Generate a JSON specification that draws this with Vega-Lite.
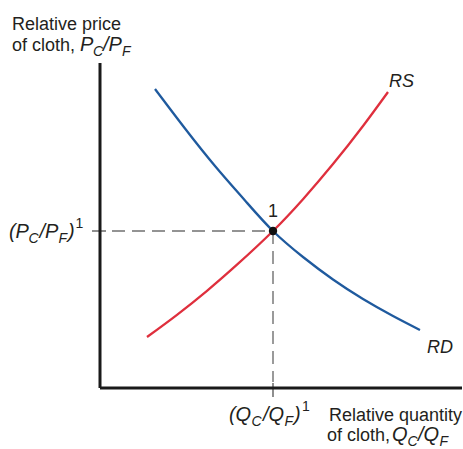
{
  "$schema": "https://vega.github.io/schema/vega-lite/v6.json",
  "width": 463,
  "height": 449,
  "autosize": {"type": "none"},
  "padding": 0,
  "background": "white",
  "config": {"view": {"stroke": null}},
  "datasets": {
    "axes": [
      {"x": 0, "y": 0, "x2": 36.2, "y2": 0},
      {"x": 0, "y": 0, "x2": 0, "y2": 32.5}
    ],
    "ticks": [
      {"x": -0.8, "y": 15.7, "x2": 0.6, "y2": 15.7},
      {"x": 17.3, "y": 0.5, "x2": 17.3, "y2": -0.9}
    ],
    "guides": [
      {"x": 1.2, "y": 15.7, "x2": 17.3, "y2": 15.7},
      {"x": 17.3, "y": 15.7, "x2": 17.3, "y2": 0.6}
    ],
    "curves": [
      {"curve": "RD", "x": 5.5, "y": 29.9},
      {"curve": "RD", "x": 8.5, "y": 25.95},
      {"curve": "RD", "x": 11.5, "y": 22.2},
      {"curve": "RD", "x": 14.5, "y": 18.75},
      {"curve": "RD", "x": 17.3, "y": 15.7},
      {"curve": "RD", "x": 20.3, "y": 13.1},
      {"curve": "RD", "x": 23.3, "y": 10.85},
      {"curve": "RD", "x": 26.3, "y": 8.9},
      {"curve": "RD", "x": 29.3, "y": 7.2},
      {"curve": "RD", "x": 32.0, "y": 5.8},
      {"curve": "RS", "x": 4.7, "y": 5.1},
      {"curve": "RS", "x": 7.7, "y": 7.32},
      {"curve": "RS", "x": 10.7, "y": 9.72},
      {"curve": "RS", "x": 13.7, "y": 12.33},
      {"curve": "RS", "x": 17.3, "y": 15.7},
      {"curve": "RS", "x": 20.3, "y": 18.88},
      {"curve": "RS", "x": 23.3, "y": 22.39},
      {"curve": "RS", "x": 26.3, "y": 26.2},
      {"curve": "RS", "x": 28.8, "y": 29.6}
    ],
    "curveLabels": [
      {"x": 28.9, "y": 30.1, "t": "RS"},
      {"x": 32.7, "y": 3.5, "t": "RD"}
    ],
    "equilibrium": [{"x": 17.3, "y": 15.7, "t": "1"}],
    "plainText": [
      {"x": -8.8, "y": 35.8, "t": "Relative price"},
      {"x": -8.8, "y": 33.7, "t": "of cloth,"},
      {"x": 22.9, "y": -3.3, "t": "Relative quantity"},
      {"x": 22.7, "y": -5.3, "t": "of cloth,"}
    ],
    "mathText": [
      {"x": -2.0, "y": 33.7, "t": "P"},
      {"x": 0.3, "y": 33.7, "t": "/P"},
      {"x": -9.1, "y": 15.0, "t": "("},
      {"x": -8.45, "y": 15.0, "t": "P"},
      {"x": -6.05, "y": 15.0, "t": "/P"},
      {"x": -3.2, "y": 15.0, "t": ")"},
      {"x": 12.9, "y": -3.3, "t": "("},
      {"x": 13.55, "y": -3.3, "t": "Q"},
      {"x": 16.3, "y": -3.3, "t": "/Q"},
      {"x": 19.4, "y": -3.3, "t": ")"},
      {"x": 29.2, "y": -5.3, "t": "Q"},
      {"x": 31.8, "y": -5.3, "t": "/Q"}
    ],
    "subText": [
      {"x": -0.7, "y": 33.2, "t": "C"},
      {"x": 2.2, "y": 33.2, "t": "F"},
      {"x": -7.15, "y": 14.5, "t": "C"},
      {"x": -4.15, "y": 14.5, "t": "F"},
      {"x": 15.15, "y": -3.8, "t": "C"},
      {"x": 18.45, "y": -3.8, "t": "F"},
      {"x": 30.75, "y": -5.8, "t": "C"},
      {"x": 33.95, "y": -5.8, "t": "F"}
    ],
    "supText": [
      {"x": -2.45, "y": 16.0, "t": "1"},
      {"x": 20.2, "y": -2.3, "t": "1"}
    ]
  },
  "encoding": {
    "x": {"field": "x", "type": "quantitative", "scale": {"domain": [-10, 36.3], "nice": false, "zero": false}, "axis": null},
    "y": {"field": "y", "type": "quantitative", "scale": {"domain": [-6.1, 38.8], "nice": false, "zero": false}, "axis": null}
  },
  "layer": [
    {
      "data": {"name": "guides"},
      "mark": {"type": "rule", "color": "#707070", "strokeWidth": 1.4, "strokeDash": [13, 7]},
      "encoding": {"x2": {"field": "x2"}, "y2": {"field": "y2"}}
    },
    {
      "data": {"name": "ticks"},
      "mark": {"type": "rule", "color": "#444444", "strokeWidth": 1.2},
      "encoding": {"x2": {"field": "x2"}, "y2": {"field": "y2"}}
    },
    {
      "data": {"name": "axes"},
      "mark": {"type": "rule", "color": "#1a1a1a", "strokeWidth": 3},
      "encoding": {"x2": {"field": "x2"}, "y2": {"field": "y2"}}
    },
    {
      "data": {"name": "curves"},
      "mark": {"type": "line", "interpolate": "natural", "strokeWidth": 2.3},
      "encoding": {
        "order": {"field": "x", "type": "quantitative"},
        "color": {"field": "curve", "type": "nominal", "scale": {"domain": ["RD", "RS"], "range": ["#1f5a9e", "#df2f3d"]}, "legend": null}
      }
    },
    {
      "data": {"name": "equilibrium"},
      "mark": {"type": "point", "shape": "circle", "filled": true, "size": 70, "color": "#111111", "opacity": 1}
    },
    {
      "data": {"name": "equilibrium"},
      "mark": {"type": "text", "font": "Liberation Sans", "fontSize": 18, "color": "#231f20", "align": "center", "baseline": "alphabetic", "dy": -14},
      "encoding": {"text": {"field": "t"}}
    },
    {
      "data": {"name": "curveLabels"},
      "mark": {"type": "text", "font": "Liberation Sans", "fontStyle": "italic", "fontSize": 18, "color": "#231f20", "align": "left", "baseline": "alphabetic"},
      "encoding": {"text": {"field": "t"}}
    },
    {
      "data": {"name": "plainText"},
      "mark": {"type": "text", "font": "Liberation Sans", "fontSize": 18, "color": "#231f20", "align": "left", "baseline": "alphabetic"},
      "encoding": {"text": {"field": "t"}}
    },
    {
      "data": {"name": "mathText"},
      "mark": {"type": "text", "font": "Liberation Sans", "fontStyle": "italic", "fontSize": 20, "color": "#231f20", "align": "left", "baseline": "alphabetic"},
      "encoding": {"text": {"field": "t"}}
    },
    {
      "data": {"name": "subText"},
      "mark": {"type": "text", "font": "Liberation Sans", "fontStyle": "italic", "fontSize": 14, "color": "#231f20", "align": "left", "baseline": "alphabetic"},
      "encoding": {"text": {"field": "t"}}
    },
    {
      "data": {"name": "supText"},
      "mark": {"type": "text", "font": "Liberation Sans", "fontSize": 14, "color": "#231f20", "align": "left", "baseline": "alphabetic"},
      "encoding": {"text": {"field": "t"}}
    }
  ]
}
